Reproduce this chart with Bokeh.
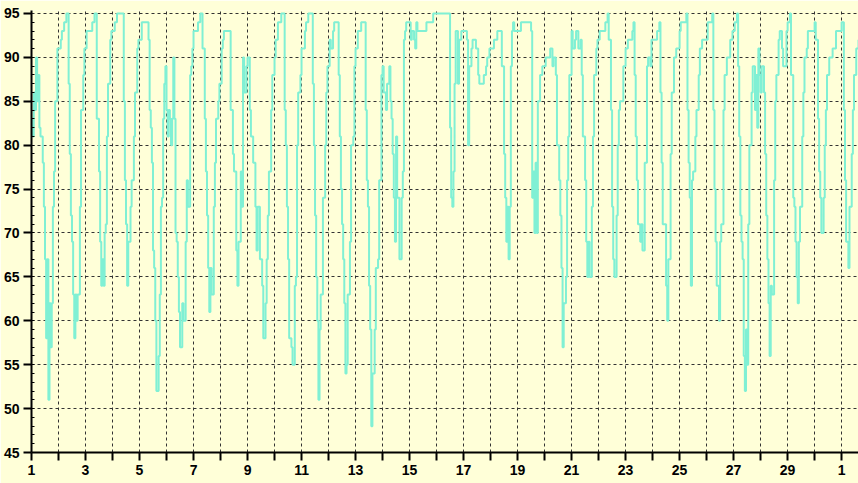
from bokeh.plotting import figure
from bokeh.models import Range1d, FixedTicker
from bokeh.embed import file_html
from bokeh.resources import INLINE

# Hourly relative humidity (%) change points: hour offset from day 1 00:00, value
hours = [0, 1, 2, 3, 4, 5, 6, 7, 8, 10, 11, 12, 13, 14, 15, 16, 17, 18, 19, 20, 21, 23, 26, 27, 29, 31,
         33, 34, 35, 36, 37, 38, 39, 40, 41, 43, 44, 46, 47, 49, 54, 56, 58, 60, 61, 62, 63, 64, 65, 66,
         67, 68, 70, 71, 74, 76, 82, 83, 84, 85, 86, 88, 89, 91, 92, 94, 95, 98, 104, 105, 106, 107, 108,
         109, 110, 111, 113, 114, 115, 116, 117, 118, 119, 120, 121, 122, 123, 124, 125, 126, 127, 128,
         129, 130, 131, 132, 134, 135, 137, 138, 139, 141, 142, 143, 144, 148, 150, 152, 154, 155, 156,
         157, 158, 159, 160, 162, 163, 164, 166, 167, 169, 170, 171, 177, 179, 180, 182, 183, 184, 186,
         187, 188, 189, 191, 192, 194, 195, 197, 199, 200, 201, 203, 205, 206, 208, 209, 210, 211, 213,
         214, 216, 217, 219, 222, 225, 226, 227, 228, 229, 231, 232, 234, 235, 236, 237, 239, 240, 243,
         244, 246, 250, 251, 252, 253, 254, 255, 256, 257, 259, 261, 262, 263, 265, 266, 268, 269, 273,
         274, 275, 276, 277, 278, 279, 280, 281, 283, 284, 286, 287, 288, 290, 293, 297, 298, 299, 300,
         301, 302, 303, 305, 306, 308, 309, 311, 312, 313, 315, 316, 318, 319, 320, 321, 322, 323, 324,
         325, 327, 329, 330, 331, 332, 333, 337, 338, 340, 341, 342, 343, 351, 357, 372, 373, 374, 375,
         376, 377, 379, 380, 382, 387, 388, 389, 391, 392, 395, 397, 398, 402, 404, 405, 407, 411, 414,
         418, 420, 421, 422, 423, 424, 425, 426, 427, 428, 429, 435, 444, 445, 446, 447, 448, 449, 450,
         452, 454, 457, 461, 463, 464, 466, 467, 469, 470, 471, 472, 473, 475, 476, 477, 478, 480, 481,
         483, 484, 486, 488, 489, 490, 492, 493, 494, 495, 496, 498, 499, 500, 502, 503, 505, 510, 512,
         513, 515, 516, 517, 518, 520, 521, 522, 523, 526, 528, 530, 534, 535, 536, 537, 538, 539, 541,
         542, 543, 545, 547, 548, 550, 551, 556, 558, 559, 560, 561, 564, 565, 566, 568, 569, 571, 573,
         576, 577, 582, 583, 584, 585, 586, 587, 588, 590, 591, 593, 594, 596, 601, 605, 606, 607, 608,
         609, 611, 612, 613, 615, 616, 618, 621, 623, 625, 627, 628, 629, 630, 631, 632, 633, 634, 635,
         636, 637, 638, 640, 641, 643, 644, 645, 646, 647, 648, 649, 651, 652, 653, 654, 655, 656, 657,
         658, 660, 661, 662, 664, 665, 667, 668, 671, 672, 674, 675, 677, 678, 679, 680, 681, 682, 683,
         685, 686, 687, 689, 690, 696, 697, 699, 700, 701, 702, 704, 705, 706, 707, 709, 712, 715, 720,
         722, 723, 724, 726, 727, 729, 730, 731, 733, 735]
rh = [83, 81, 86, 84, 90, 85, 88, 82, 81, 78, 73, 67, 58, 67, 51, 62, 57, 62, 73, 77, 85, 91, 92, 93, 94, 95,
      87, 79, 72, 69, 63, 58, 63, 60, 63, 73, 84, 88, 91, 93, 94, 95, 83, 77, 69, 64, 67, 64, 70, 71,
      81, 87, 92, 93, 94, 95, 85, 76, 71, 64, 69, 73, 76, 81, 86, 91, 92, 94, 92, 84, 82, 78, 68,
      66, 60, 52, 56, 63, 73, 74, 83, 87, 89, 84, 81, 84, 83, 80, 83, 90, 83, 70,
      69, 65, 61, 57, 62, 60, 69, 76, 73, 88, 89, 91, 93, 94, 95, 91, 83, 77, 72,
      66, 61, 66, 63, 73, 78, 83, 85, 87, 91, 92, 93, 84, 79, 77, 68, 64, 69, 77,
      73, 90, 86, 89, 90, 84, 81, 78, 73, 68, 73, 67, 64, 58, 62, 67, 72, 77, 84,
      88, 90, 92, 94, 95, 84, 80, 73, 67, 58, 57, 55, 64, 65, 80, 86, 88, 91, 93,
      94, 95, 87, 80, 72, 65, 60, 51, 59, 63, 74, 80, 86, 89, 92, 91, 93, 94, 88,
      81, 75, 71, 67, 62, 54, 55, 63, 69, 80, 81, 89, 91, 93, 94, 84, 76, 73, 64,
      59, 48, 54, 59, 66, 67, 76, 88, 89, 86, 84, 87, 89, 85, 83, 79, 74, 69, 81,
      74, 67, 74, 77, 92, 93, 94, 92, 93, 92, 91, 94, 93, 94, 95, 82, 74, 73, 77,
      87, 93, 87, 92, 93, 92, 80, 89, 91, 92, 91, 88, 87, 88, 89, 90, 91, 92, 93,
      89, 79, 74, 69, 73, 67, 73, 89, 93, 94, 93, 94, 93, 74, 77, 70, 78, 70, 85, 88,
      89, 90, 91, 89, 90, 88, 80, 76, 72, 66, 57, 62, 65, 76, 81, 88, 93, 91, 92,
      93, 91, 92, 88, 81, 76, 69, 65, 69, 65, 73, 81, 88, 91, 92, 93, 94, 95, 92,
      84, 73, 67, 65, 72, 80, 84, 85, 89, 91, 92, 93, 94, 88, 81, 76, 71, 69, 71,
      68, 78, 89, 90, 89, 92, 93, 94, 86, 78, 71, 64, 60, 67, 79, 86, 90, 91, 93,
      94, 95, 84, 78, 74, 64, 76, 77, 81, 84, 88, 91, 92, 94, 95, 84, 75, 69, 64,
      60, 69, 71, 84, 88, 90, 92, 93, 94, 95, 89, 81, 72, 69, 67, 56, 52, 59, 55,
      71, 80, 86, 89, 84, 88, 82, 91, 88, 86, 89, 86, 79, 72, 67, 62, 56, 64, 63,
      76, 85, 88, 92, 93, 91, 89, 93, 94, 95, 88, 74, 73, 69, 65, 62, 69, 73, 81,
      86, 90, 91, 93, 94, 92, 83, 77, 74, 70, 74, 80, 84, 88, 90, 91, 93, 94, 84,
      76, 69, 66, 73, 79, 84, 88, 91, 92, 92]

day_labels = ["1", "", "3", "", "5", "", "7", "", "9", "", "11", "", "13", "", "15", "",
              "17", "", "19", "", "21", "", "23", "", "25", "", "27", "", "29", "", "1"]
y_ticks = [45, 50, 55, 60, 65, 70, 75, 80, 85, 90, 95]

BG = "#FFFFD8"
LINE = "#80F0D4"
FONT = "Liberation Sans"

p = figure(width=858, height=483, x_range=Range1d(0, 735), y_range=Range1d(45, 95.34),
           output_backend="svg", toolbar_location=None,
           min_border_left=31, min_border_right=0, min_border_top=10, min_border_bottom=31,
           background_fill_color=BG, border_fill_color=BG, outline_line_color=None)

xt = FixedTicker(ticks=[24 * k for k in range(len(day_labels))])
yt = FixedTicker(ticks=y_ticks, minor_ticks=list(range(46, 95)))

p.xaxis.ticker = xt
p.xaxis.major_label_overrides = {24 * k: lab for k, lab in enumerate(day_labels)}
p.xaxis.major_tick_out = 8
p.xaxis.major_tick_in = 0
p.xaxis.minor_tick_line_color = None
p.xaxis.axis_line_width = 2
p.xaxis.major_tick_line_width = 2
p.xaxis.major_label_standoff = 4
p.xaxis.major_label_text_font = FONT
p.xaxis.major_label_text_font_style = "bold"
p.xaxis.major_label_text_font_size = "14px"
p.xaxis.major_label_text_color = "black"

p.yaxis.ticker = yt
p.yaxis.major_tick_out = 8
p.yaxis.major_tick_in = 0
p.yaxis.minor_tick_in = 3
p.yaxis.minor_tick_out = 0
p.yaxis.axis_line_width = 2
p.yaxis.major_tick_line_width = 2
p.yaxis.major_label_standoff = 4
p.yaxis.major_label_text_font = FONT
p.yaxis.major_label_text_font_style = "bold"
p.yaxis.major_label_text_font_size = "14px"
p.yaxis.major_label_text_color = "black"

p.xgrid.ticker = xt
p.ygrid.ticker = FixedTicker(ticks=y_ticks)
for g in (p.xgrid, p.ygrid):
    g.grid_line_color = "#333333"
    g.grid_line_dash = "3 3"
    g.grid_line_width = 1

p.step(hours, rh, mode="after", line_color=LINE, line_width=2)

open("out.html", "w").write(file_html(p, INLINE))
